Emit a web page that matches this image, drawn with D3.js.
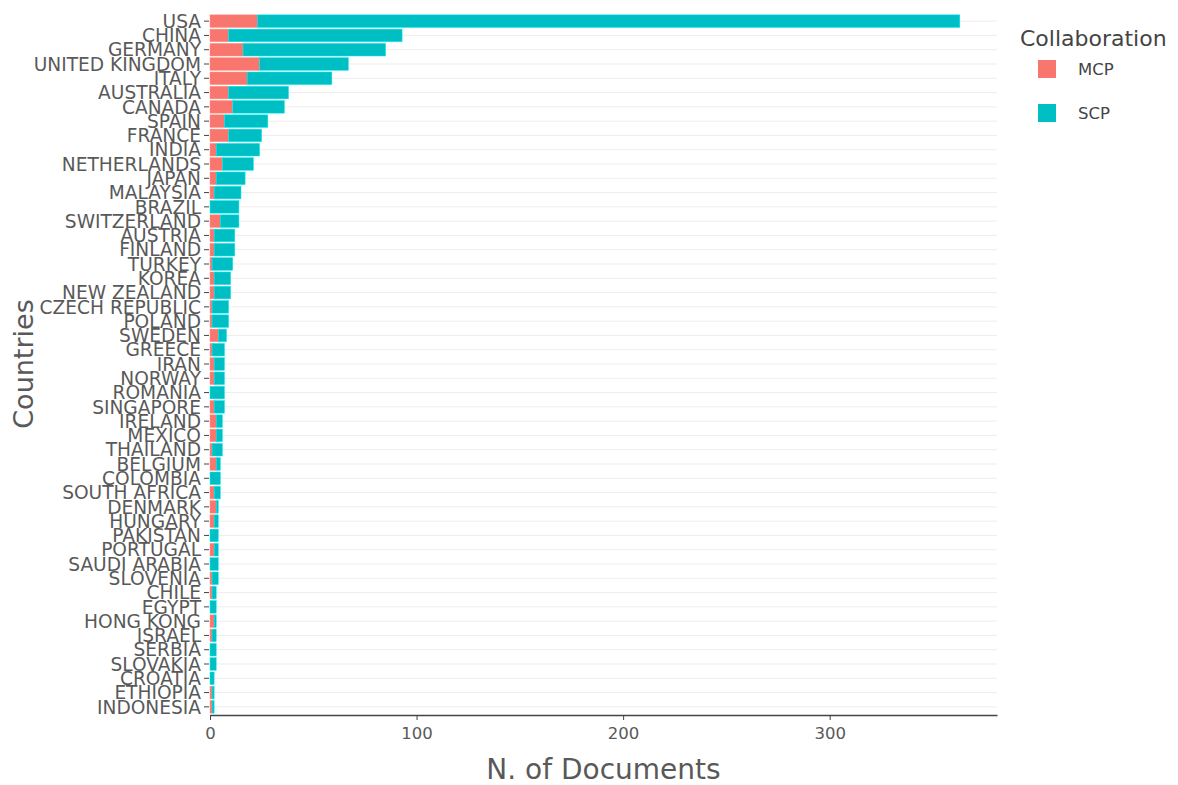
<!DOCTYPE html>
<html><head><meta charset="utf-8">
<script src="https://cdn.jsdelivr.net/npm/d3@7"></script>
<style>body{margin:0;background:#fff;} text{font-family:"DejaVu Sans",Verdana,sans-serif;}</style>
</head><body>
<svg id="chart" width="1178" height="785"></svg>
<script>
const countries = ["USA","CHINA","GERMANY","UNITED KINGDOM","ITALY","AUSTRALIA","CANADA","SPAIN","FRANCE","INDIA","NETHERLANDS","JAPAN","MALAYSIA","BRAZIL","SWITZERLAND","AUSTRIA","FINLAND","TURKEY","KOREA","NEW ZEALAND","CZECH REPUBLIC","POLAND","SWEDEN","GREECE","IRAN","NORWAY","ROMANIA","SINGAPORE","IRELAND","MEXICO","THAILAND","BELGIUM","COLOMBIA","SOUTH AFRICA","DENMARK","HUNGARY","PAKISTAN","PORTUGAL","SAUDI ARABIA","SLOVENIA","CHILE","EGYPT","HONG KONG","ISRAEL","SERBIA","SLOVAKIA","CROATIA","ETHIOPIA","INDONESIA"];
const mcp = [23,9,16,24,18,9,11,7,9,3,6,3,2,0,5,2,2,1,2,2,1,1,4,1,2,2,0,2,3,3,1,3,0,2,3,2,0,2,0,1,1,0,2,1,0,0,0,1,1];
const total = [363,93,85,67,59,38,36,28,25,24,21,17,15,14,14,12,12,11,10,10,9,9,8,7,7,7,7,7,6,6,6,5,5,5,4,4,4,4,4,4,3,3,3,3,3,3,2,2,2];
const scp = total.map((t,i)=>t-mcp[i]);
const series = ["MCP","SCP"];
const colors = ["#F8766D","#00BFC4"];
const xTicks = [0,100,200,300];

const svg = d3.select("#chart");
const m = {l:210, r:1178-997, t:14, b:785-714};
const W = 1178, H = 785;
const x = d3.scaleLinear().domain([0,381]).range([m.l, W-m.r]);
const y = d3.scaleBand().domain(countries).range([m.t, H-m.b]).paddingInner(0.12).paddingOuter(0.06);
const txt = "#595959";

// gridlines
svg.append("g").selectAll("line").data(countries).join("line")
  .attr("x1", m.l).attr("x2", W-m.r)
  .attr("y1", d=>y(d)+y.bandwidth()/2).attr("y2", d=>y(d)+y.bandwidth()/2)
  .attr("stroke","#ededed").attr("stroke-width",1);

const rows = countries.map((c,i)=>({c, MCP:mcp[i], SCP:scp[i]}));
const stack = d3.stack().keys(series)(rows);
svg.append("g").selectAll("g").data(stack).join("g")
  .attr("fill",(d,i)=>colors[i])
  .attr("stroke",(d,i)=>d3.color(colors[i]).brighter(0.6))
  .attr("stroke-width",0.5)
  .selectAll("rect").data(d=>d).join("rect")
  .attr("x", d=>x(d[0])).attr("width", d=>Math.max(0,x(d[1])-x(d[0])))
  .attr("y", d=>y(d.data.c)).attr("height", y.bandwidth());

// x axis
const xa = svg.append("g").attr("transform",`translate(0,${H-m.b+1})`)
  .call(d3.axisBottom(x).tickValues(xTicks).tickSize(5).tickSizeOuter(0).tickPadding(7));
xa.select(".domain").attr("stroke","#444").attr("stroke-width",1.5);
xa.selectAll(".tick line").attr("stroke","#444");
xa.selectAll("text").attr("fill",txt).style("font-size","16.5px").style("font-family","DejaVu Sans");

// y axis
const ya = svg.append("g").attr("transform",`translate(${m.l-1},0)`)
  .call(d3.axisLeft(y).tickSize(5).tickPadding(3));
ya.select(".domain").remove();
ya.selectAll(".tick line").attr("stroke","#444");
ya.selectAll("text").attr("fill",txt).style("font-size","18.6px").style("font-family","DejaVu Sans").attr("dy","0.36em");

// titles
svg.append("text").attr("x",(m.l+W-m.r)/2).attr("y",779).attr("text-anchor","middle")
  .attr("fill",txt).style("font-size","28px").text("N. of Documents");
svg.append("text").attr("transform",`translate(33,${(m.t+H-m.b)/2}) rotate(-90)`).attr("text-anchor","middle")
  .attr("fill",txt).style("font-size","27px").text("Countries");

// legend
const lg = svg.append("g");
lg.append("text").attr("x",1020).attr("y",46).attr("fill","#444").style("font-size","22px").text("Collaboration");
series.forEach((s,i)=>{
  lg.append("rect").attr("x",1038).attr("y",60+i*44).attr("width",18).attr("height",18).attr("fill",colors[i]);
  lg.append("text").attr("x",1078).attr("y",75+i*44).attr("fill","#444").style("font-size","16.5px").text(s);
});
</script>
</body></html>
